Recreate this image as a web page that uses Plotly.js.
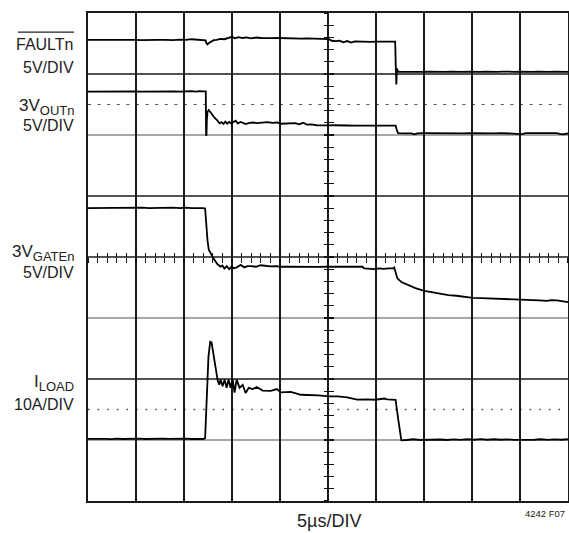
<!DOCTYPE html>
<html>
<head>
<meta charset="utf-8">
<script src="https://cdn.plot.ly/plotly-3.0.1.min.js"></script>
<style>html,body{margin:0;padding:0;background:#fff;}#chart{width:569px;height:533px;}</style>
</head>
<body>
<div id="chart"></div>
<script>
// time in microseconds (5 us / division), value in screen divisions (0 = bottom, 8 = top)
const faultPts = [[0,7.56],[0.8,7.555],[1.6,7.56],[2.4,7.558],[3.2,7.562],[4,7.556],[4.8,7.56],[5.6,7.555],[6.4,7.562],[7.2,7.558],[8,7.56],[8.8,7.556],[9.6,7.565],[10.2,7.558],[10.8,7.57],[11.4,7.562],[12,7.56],[12.25,7.55],[12.35,7.5],[12.45,7.485],[12.6,7.51],[12.8,7.53],[13.1,7.555],[13.4,7.56],[13.8,7.575],[14.2,7.57],[14.6,7.59],[15,7.61],[15.3,7.585],[15.7,7.605],[16.1,7.59],[16.5,7.6],[17,7.585],[17.5,7.598],[18,7.59],[18.6,7.595],[19.2,7.588],[19.8,7.59],[20.4,7.585],[21,7.582],[21.6,7.586],[22.2,7.58],[22.8,7.584],[23.4,7.578],[24,7.58],[24.6,7.575],[25.1,7.572],[25.4,7.545],[25.8,7.54],[26.2,7.548],[26.6,7.52],[27,7.54],[27.4,7.515],[27.8,7.535],[28.3,7.53],[28.8,7.532],[29.4,7.528],[30,7.53],[30.6,7.53],[31.2,7.528],[31.7,7.53],[32.0,7.53],[32.06,7.12],[32.12,6.83],[32.17,7.09],[32.22,7.05],[32.3,7.04],[32.5,7.036],[33,7.034],[33.6,7.038],[34.2,7.036],[34.8,7.034],[35.4,7.04],[36,7.036],[36.6,7.032],[37.2,7.036],[37.8,7.038],[38.4,7.034],[39,7.036],[39.6,7.04],[40.2,7.034],[40.8,7.036],[41.4,7.038],[42,7.034],[42.6,7.036],[43.2,7.04],[43.8,7.035],[44.4,7.036],[45,7.04],[45.6,7.034],[46.2,7.036],[46.8,7.038],[47.4,7.034],[48,7.036],[48.6,7.04],[49.2,7.035],[50,7.036]];
const voutPts = [[0,6.71],[0.8,6.712],[1.6,6.71],[2.4,6.714],[3.2,6.71],[4,6.708],[4.8,6.716],[5.6,6.71],[6.4,6.714],[7.2,6.71],[8,6.712],[8.8,6.716],[9.6,6.71],[10.2,6.714],[10.8,6.72],[11.2,6.71],[11.6,6.72],[12,6.714],[12.27,6.714],[12.3,6.0],[12.34,5.99],[12.38,6.25],[12.45,6.38],[12.58,6.41],[12.8,6.36],[12.97,6.32],[13.2,6.28],[13.49,6.235],[13.7,6.19],[13.9,6.21],[14.1,6.18],[14.3,6.22],[14.5,6.185],[14.7,6.215],[14.9,6.19],[15.1,6.21],[15.38,6.235],[15.6,6.19],[15.9,6.215],[16.2,6.195],[16.42,6.18],[16.8,6.2],[17.2,6.205],[17.6,6.195],[18.2,6.2],[18.7,6.21],[19.2,6.2],[19.7,6.205],[20.08,6.185],[20.6,6.19],[21.1,6.185],[21.6,6.195],[22,6.175],[22.4,6.2],[22.8,6.17],[23.3,6.175],[23.8,6.16],[24.4,6.165],[25,6.158],[25.6,6.16],[26.2,6.154],[27,6.156],[27.8,6.154],[28.6,6.155],[29.4,6.154],[30.2,6.156],[31,6.154],[31.8,6.155],[32.05,6.154],[32.15,6.09],[32.3,6.03],[33,6.028],[33.7,6.026],[34,6.01],[34.3,6.028],[35,6.03],[35.8,6.028],[36.6,6.03],[37.4,6.027],[38.2,6.03],[39,6.028],[39.8,6.032],[40.6,6.028],[41.4,6.03],[42.2,6.028],[43,6.032],[43.8,6.028],[44.6,6.03],[45.2,6.015],[45.6,6.03],[46.4,6.028],[47.2,6.03],[48,6.028],[48.8,6.03],[49.4,6.01],[50,6.025]];
const gatePts = [[0,4.8],[0.8,4.802],[1.6,4.8],[2.4,4.8],[3.2,4.805],[4,4.8],[4.8,4.802],[5.6,4.81],[6.4,4.8],[7.2,4.805],[8,4.8],[8.8,4.81],[9.6,4.8],[10.2,4.808],[10.8,4.8],[11.4,4.806],[12,4.8],[12.2,4.795],[12.32,4.5],[12.37,4.44],[12.45,4.27],[12.58,4.12],[12.76,4.06],[13.08,3.975],[13.49,3.88],[13.81,3.84],[14,3.86],[14.2,3.81],[14.45,3.85],[14.7,3.8],[14.95,3.84],[15.2,3.815],[15.5,3.83],[15.9,3.87],[16.3,3.83],[16.6,3.85],[16.95,3.85],[17.5,3.84],[17.99,3.865],[18.5,3.85],[19,3.845],[19.6,3.85],[20,3.84],[20.8,3.842],[21.6,3.838],[22.4,3.842],[23.2,3.84],[24,3.838],[24.8,3.842],[25.6,3.84],[26.4,3.838],[27.2,3.842],[28,3.84],[28.6,3.84],[28.77,3.812],[29.3,3.81],[29.8,3.8],[30.3,3.812],[30.8,3.805],[31.3,3.812],[31.8,3.815],[31.9,3.83],[32.01,3.78],[32.22,3.65],[32.64,3.59],[33.16,3.55],[33.68,3.51],[34.1,3.49],[34.52,3.47],[35.04,3.445],[35.77,3.425],[36.3,3.41],[36.82,3.40],[37.55,3.376],[38.39,3.365],[38.9,3.352],[39.44,3.34],[40.06,3.33],[41,3.325],[42,3.32],[43.1,3.31],[44,3.31],[44.87,3.31],[45.5,3.305],[46.23,3.305],[47,3.29],[47.8,3.28],[48.3,3.292],[48.85,3.29],[49.5,3.27],[50,3.26]];
const iloadPts = [[0,1.018],[0.6,1.022],[1.2,1.014],[1.8,1.02],[2.4,1.015],[3,1.022],[3.6,1.016],[4.2,1.02],[4.8,1.013],[5.4,1.022],[6,1.016],[6.6,1.02],[7.2,1.014],[7.8,1.022],[8.4,1.017],[9,1.02],[9.6,1.014],[10.2,1.022],[10.8,1.016],[11.4,1.02],[12,1.016],[12.2,1.03],[12.34,1.45],[12.45,1.99],[12.55,2.37],[12.73,2.61],[12.87,2.60],[13.08,2.42],[13.28,2.20],[13.49,1.99],[13.67,1.905],[13.81,1.99],[14.02,1.88],[14.23,1.99],[14.44,1.856],[14.64,1.99],[14.85,1.856],[15.06,2.0],[15.27,1.775],[15.48,1.99],[15.79,1.856],[16.11,1.905],[16.42,1.77],[16.74,1.856],[17.15,1.835],[17.57,1.868],[18.2,1.81],[19.04,1.805],[19.67,1.835],[20.08,1.78],[21.13,1.79],[22.18,1.742],[23,1.74],[24,1.73],[25.1,1.714],[26,1.715],[27,1.70],[28.03,1.662],[29,1.665],[29.92,1.66],[30.5,1.672],[30.86,1.68],[31.17,1.667],[31.8,1.665],[32.04,1.66],[32.32,1.333],[32.53,1.06],[32.64,0.995],[33.2,1.0],[33.9,1.012],[34.6,1.0],[35.3,1.006],[36,1.0],[36.7,1.008],[37.4,1.0],[38.1,1.01],[38.8,1.002],[39.5,1.012],[40.2,1.004],[40.9,1.014],[41.6,1.004],[42.3,1.012],[43,1.004],[43.7,1.01],[44.4,1.002],[45.1,1.0],[45.8,1.01],[46.5,1.004],[47.2,1.012],[47.9,1.002],[48.6,1.01],[49.3,1.004],[50,1.012]];

const SUB = s => '<sub><span style="font-size:13px">' + s + '</span></sub>';
const channelLabels = ['FAULTn', '3V' + SUB('OUTn'), '3V' + SUB('GATEn'), 'I' + SUB('LOAD')];
const channelLabelY = [7.49, 6.46, 4.06, 1.93];
const channelLabelSize = [16, 17, 17, 17];
const scaleLabels = ['5V/DIV', '5V/DIV', '5V/DIV', '10A/DIV'];
const scaleLabelY = [7.11, 6.16, 3.74, 1.585];
const xTitle = '5\u00b5s/DIV';
const figId = '4242 F07';
const blackGridY = [2, 4, 5, 7];
const grayGridY = [1, 3, 6];
const dashedY = 6.5;
const dottedY = 1.5;

const FONT = 'Arial, "Liberation Sans", Helvetica, sans-serif';

function tr(pts) {
  return {
    x: pts.map(p => p[0]), y: pts.map(p => p[1]),
    type: 'scatter', mode: 'lines',
    line: {color: '#000', width: 1.8},
    hoverinfo: 'skip', showlegend: false
  };
}
const traces = [tr(faultPts), tr(voutPts), tr(gatePts), tr(iloadPts),
  {x: [], y: [], xaxis: 'x2', yaxis: 'y', type: 'scatter', showlegend: false},
  {x: [], y: [], xaxis: 'x3', yaxis: 'y', type: 'scatter', showlegend: false},
  {x: [], y: [], xaxis: 'x', yaxis: 'y2', type: 'scatter', showlegend: false},
  {x: [], y: [], xaxis: 'x', yaxis: 'y3', type: 'scatter', showlegend: false}
];

const shapes = [];
blackGridY.forEach(v => shapes.push({type: 'line', xref: 'paper', x0: 0, x1: 1, yref: 'y', y0: v, y1: v, layer: 'below', line: {color: '#1a1a1a', width: 1.6}}));
grayGridY.forEach(v => shapes.push({type: 'line', xref: 'paper', x0: 0, x1: 1, yref: 'y', y0: v, y1: v, layer: 'below', line: {color: '#8a8a8a', width: 1.4}}));
shapes.push({type: 'line', xref: 'paper', x0: 0, x1: 1, yref: 'y', y0: dashedY, y1: dashedY, layer: 'below', line: {color: '#555', width: 1, dash: '3px,6.6px'}});
shapes.push({type: 'line', xref: 'paper', x0: 0, x1: 1, yref: 'y', y0: dottedY, y1: dottedY, layer: 'below', line: {color: '#555', width: 1.4, dash: '1.6px,8px'}});
// overline of FAULTn
shapes.push({type: 'line', xref: 'paper', yref: 'paper', x0: -0.146, x1: -0.029, y0: 0.961, y1: 0.961, line: {color: '#222', width: 1.3}});

const annotations = [];
channelLabels.forEach((t, i) => annotations.push({text: t, xref: 'paper', x: -0.025, xanchor: 'right', yref: 'y', y: channelLabelY[i], yanchor: 'middle', showarrow: false, font: {family: FONT, size: channelLabelSize[i], color: '#222'}}));
scaleLabels.forEach((t, i) => annotations.push({text: t, xref: 'paper', x: -0.025, xanchor: 'right', yref: 'y', y: scaleLabelY[i], yanchor: 'middle', showarrow: false, font: {family: FONT, size: 16, color: '#222'}}));
annotations.push({text: xTitle, xref: 'paper', x: 0.502, xanchor: 'center', yref: 'paper', y: -0.042, yanchor: 'middle', showarrow: false, font: {family: FONT, size: 18, color: '#222'}});
annotations.push({text: figId, xref: 'paper', x: 0.997, xanchor: 'right', yref: 'paper', y: -0.026, yanchor: 'middle', showarrow: false, font: {family: FONT, size: 9.5, color: '#222'}});

const tickAx = (extra) => Object.assign({showgrid: false, zeroline: false, showline: false, showticklabels: false, tickcolor: '#111', tickwidth: 1.1, ticklen: 4.5, fixedrange: true}, extra);

const layout = {
  width: 569, height: 533,
  margin: {l: 88, r: 1, t: 13, b: 32, autoexpand: false},
  paper_bgcolor: '#fff', plot_bgcolor: '#fff',
  showlegend: false,
  xaxis: {range: [0, 50], dtick: 5, tick0: 0, showgrid: true, gridcolor: '#1a1a1a', gridwidth: 1.6, zeroline: false, showticklabels: false, ticks: '', showline: true, mirror: true, linecolor: '#1a1a1a', linewidth: 1.6, fixedrange: true},
  yaxis: {range: [0, 8], showgrid: false, zeroline: false, showticklabels: false, ticks: '', showline: true, mirror: true, linecolor: '#1a1a1a', linewidth: 1.6, fixedrange: true},
  xaxis2: tickAx({overlaying: 'x', anchor: 'free', position: 0.5, range: [0, 50], dtick: 1, tick0: 0, ticks: 'outside'}),
  xaxis3: tickAx({overlaying: 'x', anchor: 'free', position: 0.5, range: [0, 50], dtick: 1, tick0: 0, ticks: 'inside'}),
  yaxis2: tickAx({overlaying: 'y', anchor: 'free', position: 0.5, range: [0, 8], dtick: 0.2, tick0: 0, ticks: 'outside'}),
  yaxis3: tickAx({overlaying: 'y', anchor: 'free', position: 0.5, range: [0, 8], dtick: 0.2, tick0: 0, ticks: 'inside'}),
  shapes: shapes,
  annotations: annotations
};

Plotly.newPlot('chart', traces, layout, {staticPlot: true, displayModeBar: false});
</script>
</body>
</html>
